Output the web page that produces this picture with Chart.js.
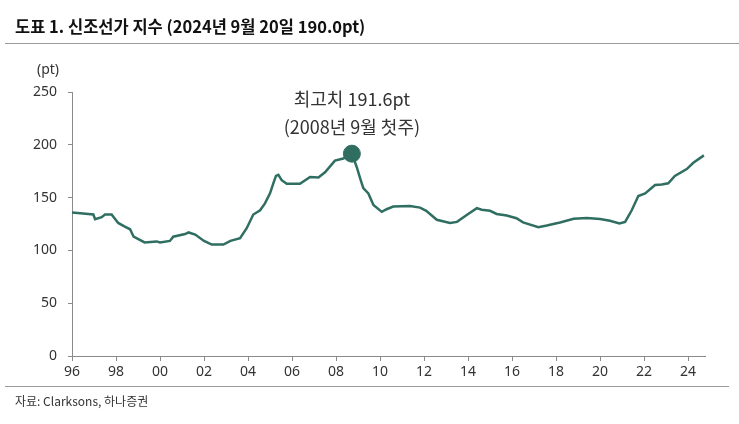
<!DOCTYPE html>
<html>
<head>
<meta charset="utf-8">
<script src="https://cdn.jsdelivr.net/npm/chart.js@4/dist/chart.umd.min.js"></script>
<style>
  html, body { margin: 0; padding: 0; background: #fff; }
  #wrap { position: relative; width: 739px; height: 424px; }
</style>
</head>
<body>
<div id="wrap"><canvas id="newbuild-chart" width="739" height="424"></canvas></div>
<script>
// 신조선가 지수 (Clarksons), 연도 소수점 표기
var years = [1996.0, 1996.5, 1996.97, 1997.05, 1997.35, 1997.5, 1997.8, 1998.1, 1998.4, 1998.64,
  1998.8, 1999.3, 1999.85, 2000.0, 2000.45, 2000.6, 2001.14, 2001.3, 2001.6, 2002.0,
  2002.35, 2002.88, 2003.2, 2003.64, 2003.94, 2004.24, 2004.55, 2004.77, 2005.0, 2005.15,
  2005.27, 2005.38, 2005.53, 2005.76, 2006.36, 2006.82, 2007.2, 2007.5, 2007.95, 2008.33,
  2008.72, 2008.94, 2009.1, 2009.24, 2009.47, 2009.7, 2010.08, 2010.3, 2010.6, 2011.36,
  2011.82, 2012.1, 2012.58, 2013.18, 2013.5, 2013.94, 2014.4, 2014.62, 2015.0, 2015.3,
  2015.76, 2016.2, 2016.5, 2017.2, 2017.58, 2018.18, 2018.8, 2019.4, 2020.0, 2020.45,
  2020.88, 2021.14, 2021.44, 2021.74, 2022.05, 2022.5, 2022.8, 2023.1, 2023.4, 2023.94,
  2024.24, 2024.72];
var values = [136, 135, 134, 129.5, 131.5, 134, 134, 126, 122.5, 120,
  113, 107.5, 108.5, 107.5, 109, 113, 115.5, 117, 115, 109,
  105.5, 105.5, 109, 111.5, 121, 134, 138, 144.5, 154, 163.5,
  170.5, 171.5, 166.5, 163, 163, 169.5, 169, 174, 185, 187,
  191.6, 179, 168, 159, 154, 143, 136.5, 139, 141.5, 142,
  140.5, 137.5, 129, 126, 127, 133.5, 140, 138.5, 137.5, 134.5,
  133, 130.5, 126.5, 122, 123.5, 126.5, 130, 130.7, 129.7, 128,
  125.5, 127, 138, 151.5, 154, 162, 162.5, 163.5, 170.5, 177,
  183, 190];
var peakYear = 2008.72;
var peakValue = 191.6;
var peakLabel = ['최고치 191.6pt', '(2008년 9월 첫주)'];
var yTicks = [0, 50, 100, 150, 200, 250];
var xTicks = [1996, 1998, 2000, 2002, 2004, 2006, 2008, 2010, 2012, 2014, 2016, 2018, 2020, 2022, 2024];

var lineColor = '#2f6e61';
var axisColor = '#8a8a8a';
var textColor = '#333333';
var tickFont = "'Liberation Sans Narrow', 'Noto Sans', sans-serif";
var krFont = "'Noto Sans CJK KR', 'Noto Sans', sans-serif";

var points = years.map(function (y, i) { return { x: y, y: values[i] }; });

var decor = {
  id: 'decor',
  afterDraw: function (chart) {
    var ctx = chart.ctx;
    ctx.save();
    // 제목
    ctx.fillStyle = '#111';
    ctx.font = "bold 16.5px " + krFont;
    ctx.textBaseline = 'middle';
    ctx.textAlign = 'left';
    ctx.fillText('도표 1. 신조선가 지수 (2024년 9월 20일 190.0pt)', 15, 27);
    // 구분선
    ctx.strokeStyle = '#9a9a9a';
    ctx.lineWidth = 1;
    ctx.beginPath();
    ctx.moveTo(5, 43.5); ctx.lineTo(739, 43.5);
    ctx.moveTo(5, 386.5); ctx.lineTo(729, 386.5);
    ctx.stroke();
    // 단위
    ctx.fillStyle = textColor;
    ctx.font = "14px " + tickFont;
    ctx.fillText('(pt)', 37, 70);
    // 출처
    ctx.font = "12px " + krFont;
    ctx.fillText('자료: Clarksons, 하나증권', 15, 401);
    // 최고치 주석
    var px = chart.scales.x.getPixelForValue(peakYear);
    var py = chart.scales.y.getPixelForValue(peakValue);
    ctx.font = "18px " + krFont;
    ctx.textAlign = 'center';
    ctx.fillText(peakLabel[0], px, py - 55);
    ctx.fillText(peakLabel[1], px, py - 27);
    ctx.restore();
  }
};

var chartCanvas = document.getElementById('newbuild-chart').getContext('2d');
var newbuildChart = new Chart(chartCanvas, {
  type: 'line',
  data: {
    datasets: [{
      data: points,
      borderColor: lineColor,
      borderWidth: 2.5,
      pointRadius: 0,
      tension: 0,
      fill: false
    }, {
      data: [{ x: peakYear, y: peakValue }],
      borderColor: lineColor,
      backgroundColor: lineColor,
      pointRadius: 8.5,
      pointHoverRadius: 8.5,
      showLine: false
    }]
  },
  options: {
    responsive: false,
    animation: false,
    events: [],
    layout: { padding: { left: 0, right: 34, top: 92, bottom: 38 } },
    plugins: { legend: { display: false }, tooltip: { enabled: false } },
    scales: {
      x: {
        type: 'linear',
        min: 1996,
        max: 2024.77,
        afterBuildTicks: function (scale) {
          scale.ticks = xTicks.map(function (v) { return { value: v }; });
        },
        border: { display: true, color: axisColor, width: 1 },
        grid: { display: true, drawOnChartArea: false, drawTicks: true, tickLength: 5, color: axisColor },
        ticks: {
          autoSkip: false,
          maxRotation: 0,
          padding: 3,
          color: textColor,
          font: { family: tickFont, size: 14 },
          callback: function (v) {
            return String(v % 100).padStart(2, '0');
          }
        },
        afterFit: function (scale) { scale.height = 30; }
      },
      y: {
        min: 0,
        max: 250,
        afterBuildTicks: function (scale) {
          scale.ticks = yTicks.map(function (v) { return { value: v }; });
        },
        border: { display: true, color: axisColor, width: 1 },
        grid: { display: true, drawOnChartArea: false, drawTicks: true, tickLength: 4, color: axisColor },
        ticks: {
          padding: 11,
          color: textColor,
          font: { family: tickFont, size: 14 }
        },
        afterFit: function (scale) { scale.width = 72; }
      }
    }
  },
  plugins: [decor]
});
</script>
</body>
</html>
